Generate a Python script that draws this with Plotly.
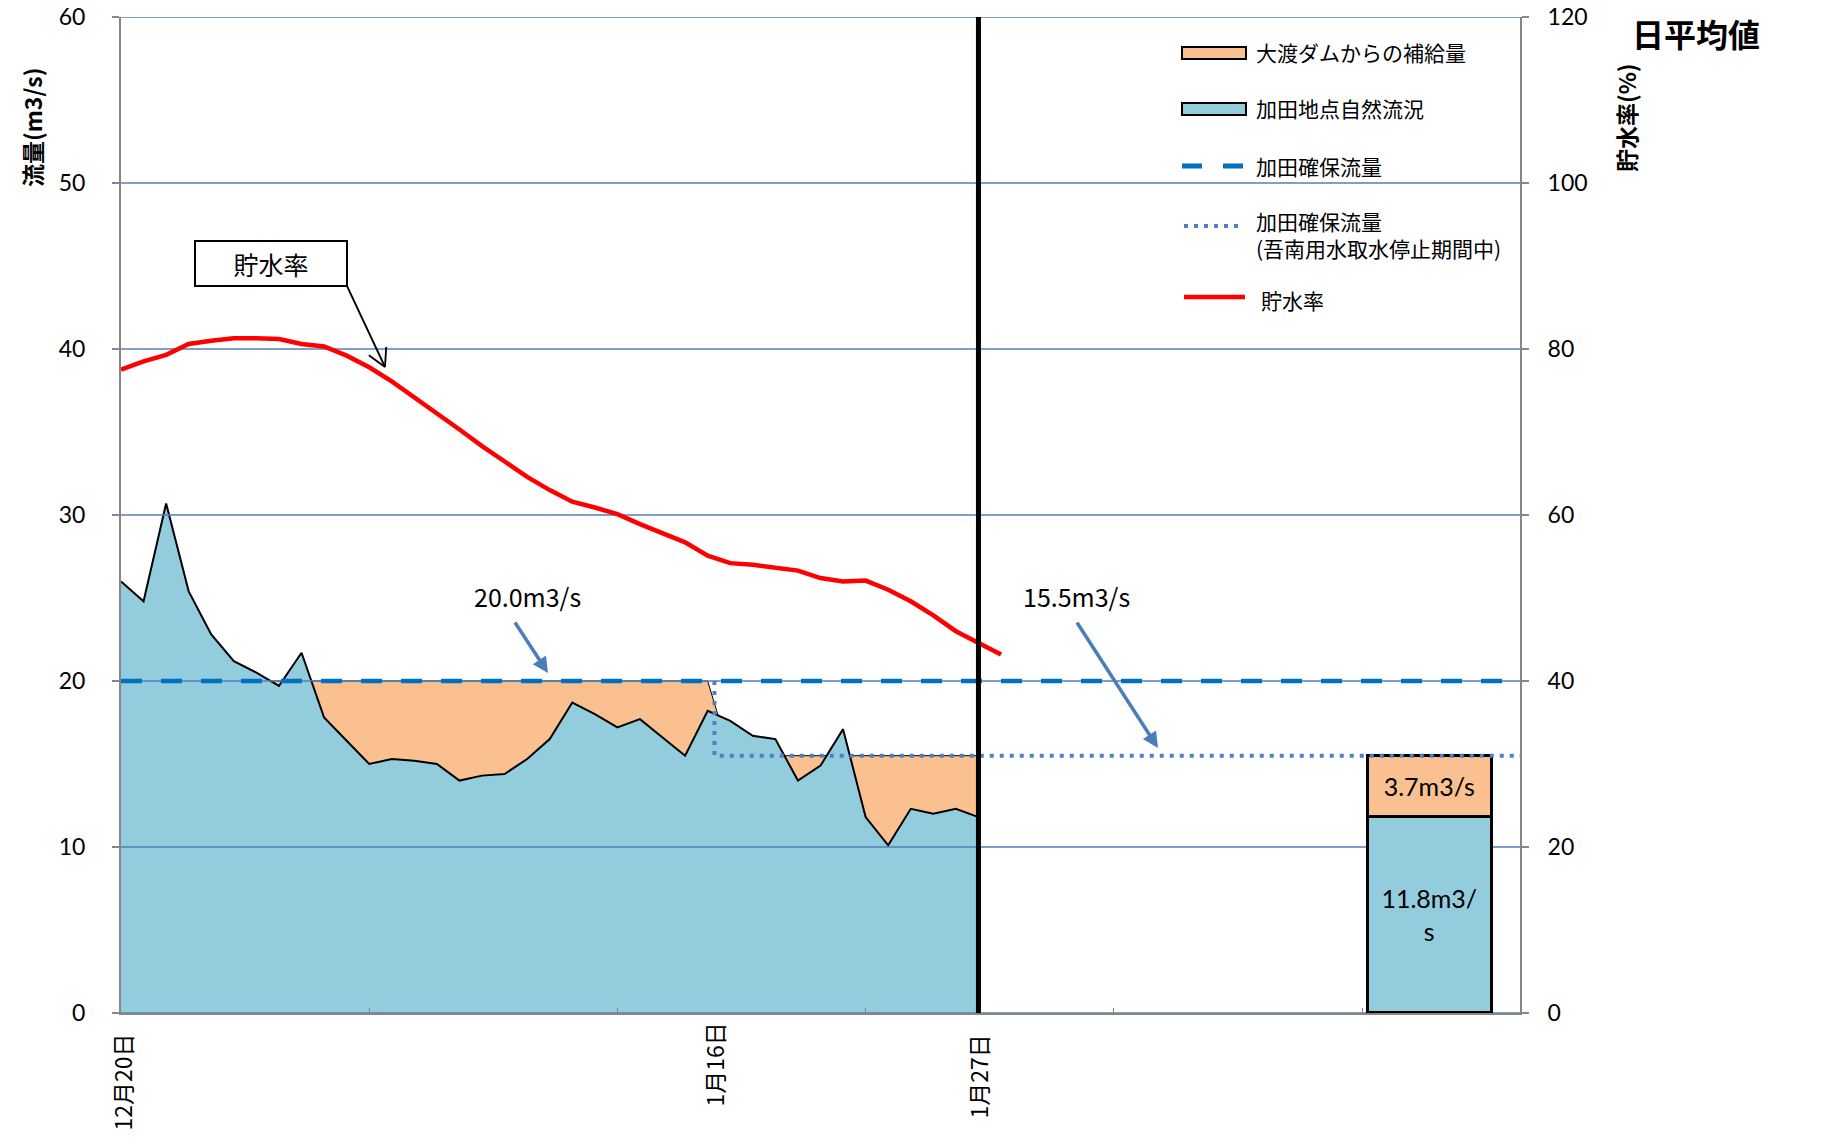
import math
import plotly.graph_objects as go

# ---------------- data ----------------
days_flow = list(range(39))          # day 0 = 12/20 ... day 38 = 1/27
flow_kada = [26.0, 24.8, 30.7, 25.4, 22.8, 21.2, 20.5, 19.7, 21.7, 17.8,
             16.4, 15.0, 15.3, 15.2, 15.0, 14.0, 14.3, 14.4, 15.3, 16.5,
             18.7, 18.0, 17.2, 17.7, 16.6, 15.5, 18.2, 17.6, 16.7, 16.5,
             14.0, 14.9, 17.1, 11.8, 10.1, 12.3, 12.0, 12.3, 11.8]
target_flow = [20.0, 20.0, 20.0, 20.0, 20.0, 20.0, 20.0, 20.0, 20.0, 20.0,
               20.0, 20.0, 20.0, 20.0, 20.0, 20.0, 20.0, 20.0, 20.0, 20.0,
               20.0, 20.0, 20.0, 20.0, 20.0, 20.0, 20.0, 15.5, 15.5, 15.5,
               15.5, 15.5, 15.5, 15.5, 15.5, 15.5, 15.5, 15.5, 15.5]
days_storage = list(range(40))
storage_rate = [77.5, 78.5, 79.3, 80.6, 81.0, 81.3, 81.3, 81.2, 80.6, 80.3,
                79.2, 77.8, 76.1, 74.2, 72.2, 70.3, 68.3, 66.4, 64.6, 63.0,
                61.6, 60.9, 60.1, 58.9, 57.8, 56.7, 55.1, 54.2, 54.0, 53.7,
                53.3, 52.4, 52.0, 52.1, 51.0, 49.6, 47.9, 46.0, 44.6, 43.2]

guarantee_days = [0, 62]
guarantee_val = [20.0, 20.0]
stop_days = [26.3, 26.3, 62]
stop_val = [20.0, 15.5, 15.5]

today_day = 38
bar_day = 58.0
bar_natural = 11.8
bar_supply = 3.7

label_days = [0, 26.3, 38]
label_text = ["12月20日", "1月16日", "1月27日"]

left_ticks = [0, 10, 20, 30, 40, 50, 60]
right_ticks = [0, 20, 40, 60, 80, 100, 120]
minor_x_ticks = [11, 22, 33, 44, 55]
X_MAX = 62

# ---------------- styling helpers ----------------
W, H = 1839, 1144
PL, PR, PT, PB = 121, 1520, 17, 1013
def px(x):
    return (x - PL) / (PR - PL)
def py(y):
    return (PB - y) / (PB - PT)

C_ORANGE = "#FAC090"
C_BLUE = "#93CDDD"
C_GRID = "#4F81BD"
C_AXIS = "#868686"
C_DASH = "#0070C0"
C_DOT = "#4F7FC4"
JP = "Noto Sans CJK JP"
NUM = "Lato"

fig = go.Figure()

# supply area (target filled), natural flow area on top
fig.add_trace(go.Scatter(x=days_flow, y=target_flow, mode="lines", fill="tozeroy",
                         fillcolor=C_ORANGE, line=dict(color="black", width=1),
                         showlegend=False, hoverinfo="skip", xaxis="x", yaxis="y"))
fig.add_trace(go.Scatter(x=days_flow, y=flow_kada, mode="lines", fill="tozeroy",
                         fillcolor=C_BLUE, line=dict(color="black", width=2),
                         showlegend=False, xaxis="x", yaxis="y"))

# gridlines drawn above the areas
gx, gy = [], []
for v in left_ticks:
    gx += [0, X_MAX, None]
    gy += [v, v, None]
fig.add_trace(go.Scatter(x=gx, y=gy, mode="lines", line=dict(color=C_GRID, width=1.4),
                         showlegend=False, hoverinfo="skip", xaxis="x", yaxis="y"))

# storage rate (right axis)
fig.add_trace(go.Scatter(x=days_storage, y=storage_rate, mode="lines",
                         line=dict(color="#FF0000", width=4.5),
                         showlegend=False, xaxis="x", yaxis="y2"))

# stacked bar (overlay axis so it sits above gridlines)
fig.add_trace(go.Bar(x=[bar_day], y=[bar_natural], width=5.5,
                     marker=dict(color=C_BLUE, line=dict(color="black", width=3.5)),
                     text=[f"{bar_natural}m3/<br>s"], textposition="inside",
                     insidetextanchor="middle", textangle=0, constraintext="none",
                     textfont=dict(family=NUM, size=25, color="black"),
                     showlegend=False, xaxis="x", yaxis="y3"))
fig.add_trace(go.Bar(x=[bar_day], y=[bar_supply], width=5.5,
                     marker=dict(color=C_ORANGE, line=dict(color="black", width=3.5)),
                     text=[f"{bar_supply}m3/s"], textposition="inside",
                     insidetextanchor="middle", textangle=0, constraintext="none",
                     textfont=dict(family=NUM, size=25, color="black"),
                     showlegend=False, xaxis="x", yaxis="y3"))

# guarantee lines
fig.add_trace(go.Scatter(x=guarantee_days, y=guarantee_val, mode="lines",
                         line=dict(color=C_DASH, width=4.5, dash="21px,19px"),
                         showlegend=False, xaxis="x", yaxis="y3"))
fig.add_trace(go.Scatter(x=stop_days, y=stop_val, mode="lines",
                         line=dict(color=C_DOT, width=4, dash="4px,6px"),
                         showlegend=False, xaxis="x", yaxis="y3"))

shapes = []
annotations = []

def note(x, y, text, size, **kw):
    d = dict(x=px(x), y=py(y), xref="paper", yref="paper", text=text, showarrow=False,
             xanchor="center", yanchor="middle", font=dict(family=JP, size=size, color="black"))
    d.update(kw)
    annotations.append(d)

# present-day vertical line
shapes.append(dict(type="line", xref="x", yref="y", x0=today_day, x1=today_day,
                   y0=0, y1=left_ticks[-1], line=dict(color="black", width=5), layer="above"))

# x labels (rotated)
for d, t in zip(label_days, label_text):
    top = 1020 if d not in (0, 38) else 1032
    annotations.append(dict(x=d, xref="x", y=py(top), yref="paper", text=t,
                            textangle=-90, showarrow=False, xanchor="center", yanchor="top",
                            font=dict(family=JP, size=23, color="black")))

# axis titles & corner title
note(32, 128, "<b>流量(m3/s)</b>", 23, textangle=-90)
note(1626, 117, "<b>貯水率(%)</b>", 23, textangle=-90)
note(1696, 33, "<b>日平均値</b>", 32)

# legend (manual)
LX0, LX1 = 1182, 1246
shapes.append(dict(type="rect", xref="paper", yref="paper", x0=px(LX0), x1=px(LX1),
                   y0=py(59), y1=py(47), fillcolor=C_ORANGE, line=dict(color="black", width=2)))
shapes.append(dict(type="rect", xref="paper", yref="paper", x0=px(LX0), x1=px(LX1),
                   y0=py(115), y1=py(103), fillcolor=C_BLUE, line=dict(color="black", width=2)))
shapes.append(dict(type="line", xref="paper", yref="paper", x0=px(1182), x1=px(1243),
                   y0=py(166), y1=py(166), line=dict(color=C_DASH, width=5, dash="20px,21px")))
shapes.append(dict(type="line", xref="paper", yref="paper", x0=px(1184), x1=px(1242),
                   y0=py(226), y1=py(226), line=dict(color=C_DOT, width=4, dash="4px,6px")))
shapes.append(dict(type="line", xref="paper", yref="paper", x0=px(1184), x1=px(1245),
                   y0=py(297), y1=py(297), line=dict(color="#FF0000", width=4.5)))
leg_items = [("大渡ダムからの補給量", 1254, 52), ("加田地点自然流況", 1254, 108),
             ("加田確保流量", 1254, 166), ("加田確保流量<br>(吾南用水取水停止期間中)", 1254, 235),
             ("貯水率", 1259, 300)]
for t, x, y in leg_items:
    note(x, y, t, 21, align="left", xanchor="left")

# "貯水率" callout box with open arrow
note(271, 263, "貯水率", 25, width=150, height=43, bordercolor="black", borderwidth=2,
     borderpad=0, bgcolor="white")
tail = (347, 286)
tip = (385, 367)
shapes.append(dict(type="line", xref="paper", yref="paper", x0=px(tail[0]), y0=py(tail[1]),
                   x1=px(tip[0]), y1=py(tip[1]), line=dict(color="black", width=1.8)))
ang = math.atan2(tail[1] - tip[1], tail[0] - tip[0])
for da in (0.5, -0.5):
    bx = tip[0] + 20 * math.cos(ang + da)
    by = tip[1] + 20 * math.sin(ang + da)
    shapes.append(dict(type="line", xref="paper", yref="paper", x0=px(tip[0]), y0=py(tip[1]),
                       x1=px(bx), y1=py(by), line=dict(color="black", width=1.8)))

# value callouts with blue arrows
for txt, tc, tl, tp in [("20.0m3/s", (527, 596), (514, 621), (548, 673)),
                        ("15.5m3/s", (1076, 596), (1076, 621), (1158, 748))]:
    note(tc[0], tc[1], txt, 25)
    annotations.append(dict(x=px(tp[0]), y=py(tp[1]), xref="paper", yref="paper", text="",
                            showarrow=True, ax=tl[0] - tp[0], ay=tl[1] - tp[1],
                            arrowcolor="#4A7EBB", arrowwidth=3.5, arrowhead=2, arrowsize=0.9))

fig.update_layout(
    width=W, height=H,
    margin=dict(l=PL, r=W - PR, t=PT, b=H - PB, pad=0, autoexpand=False),
    paper_bgcolor="white", plot_bgcolor="white",
    barmode="stack", bargap=0,
    font=dict(family=JP, color="black"),
    xaxis=dict(range=[0, X_MAX], showgrid=False, zeroline=False, showline=True, automargin=False,
               linecolor=C_AXIS, linewidth=2, tickvals=minor_x_ticks, ticks="inside",
               ticklen=5, tickcolor=C_AXIS, showticklabels=False),
    yaxis=dict(range=[0, 60], tickvals=left_ticks, showgrid=False, zeroline=False, automargin=False,
               showline=True, linecolor=C_AXIS, linewidth=2, ticks="outside", ticklen=7,
               tickcolor=C_AXIS, tickwidth=1.5, ticklabelstandoff=22,
               tickfont=dict(family=NUM, size=23, color="black")),
    yaxis2=dict(range=[0, 120], tickvals=right_ticks, overlaying="y", side="right",
                showgrid=False, zeroline=False, showline=True, linecolor=C_AXIS, linewidth=2,
                ticks="outside", ticklen=7, tickcolor=C_AXIS, tickwidth=1.5, automargin=False,
                ticklabelstandoff=14, tickfont=dict(family=NUM, size=23, color="black")),
    yaxis3=dict(range=[0, 60], overlaying="y", visible=False, automargin=False),
    shapes=shapes,
    annotations=annotations,
    showlegend=False,
)

fig.write_html("out.html", config={"displayModeBar": False},
               post_script="document.body.style.margin='0';document.body.style.overflow='hidden';")
